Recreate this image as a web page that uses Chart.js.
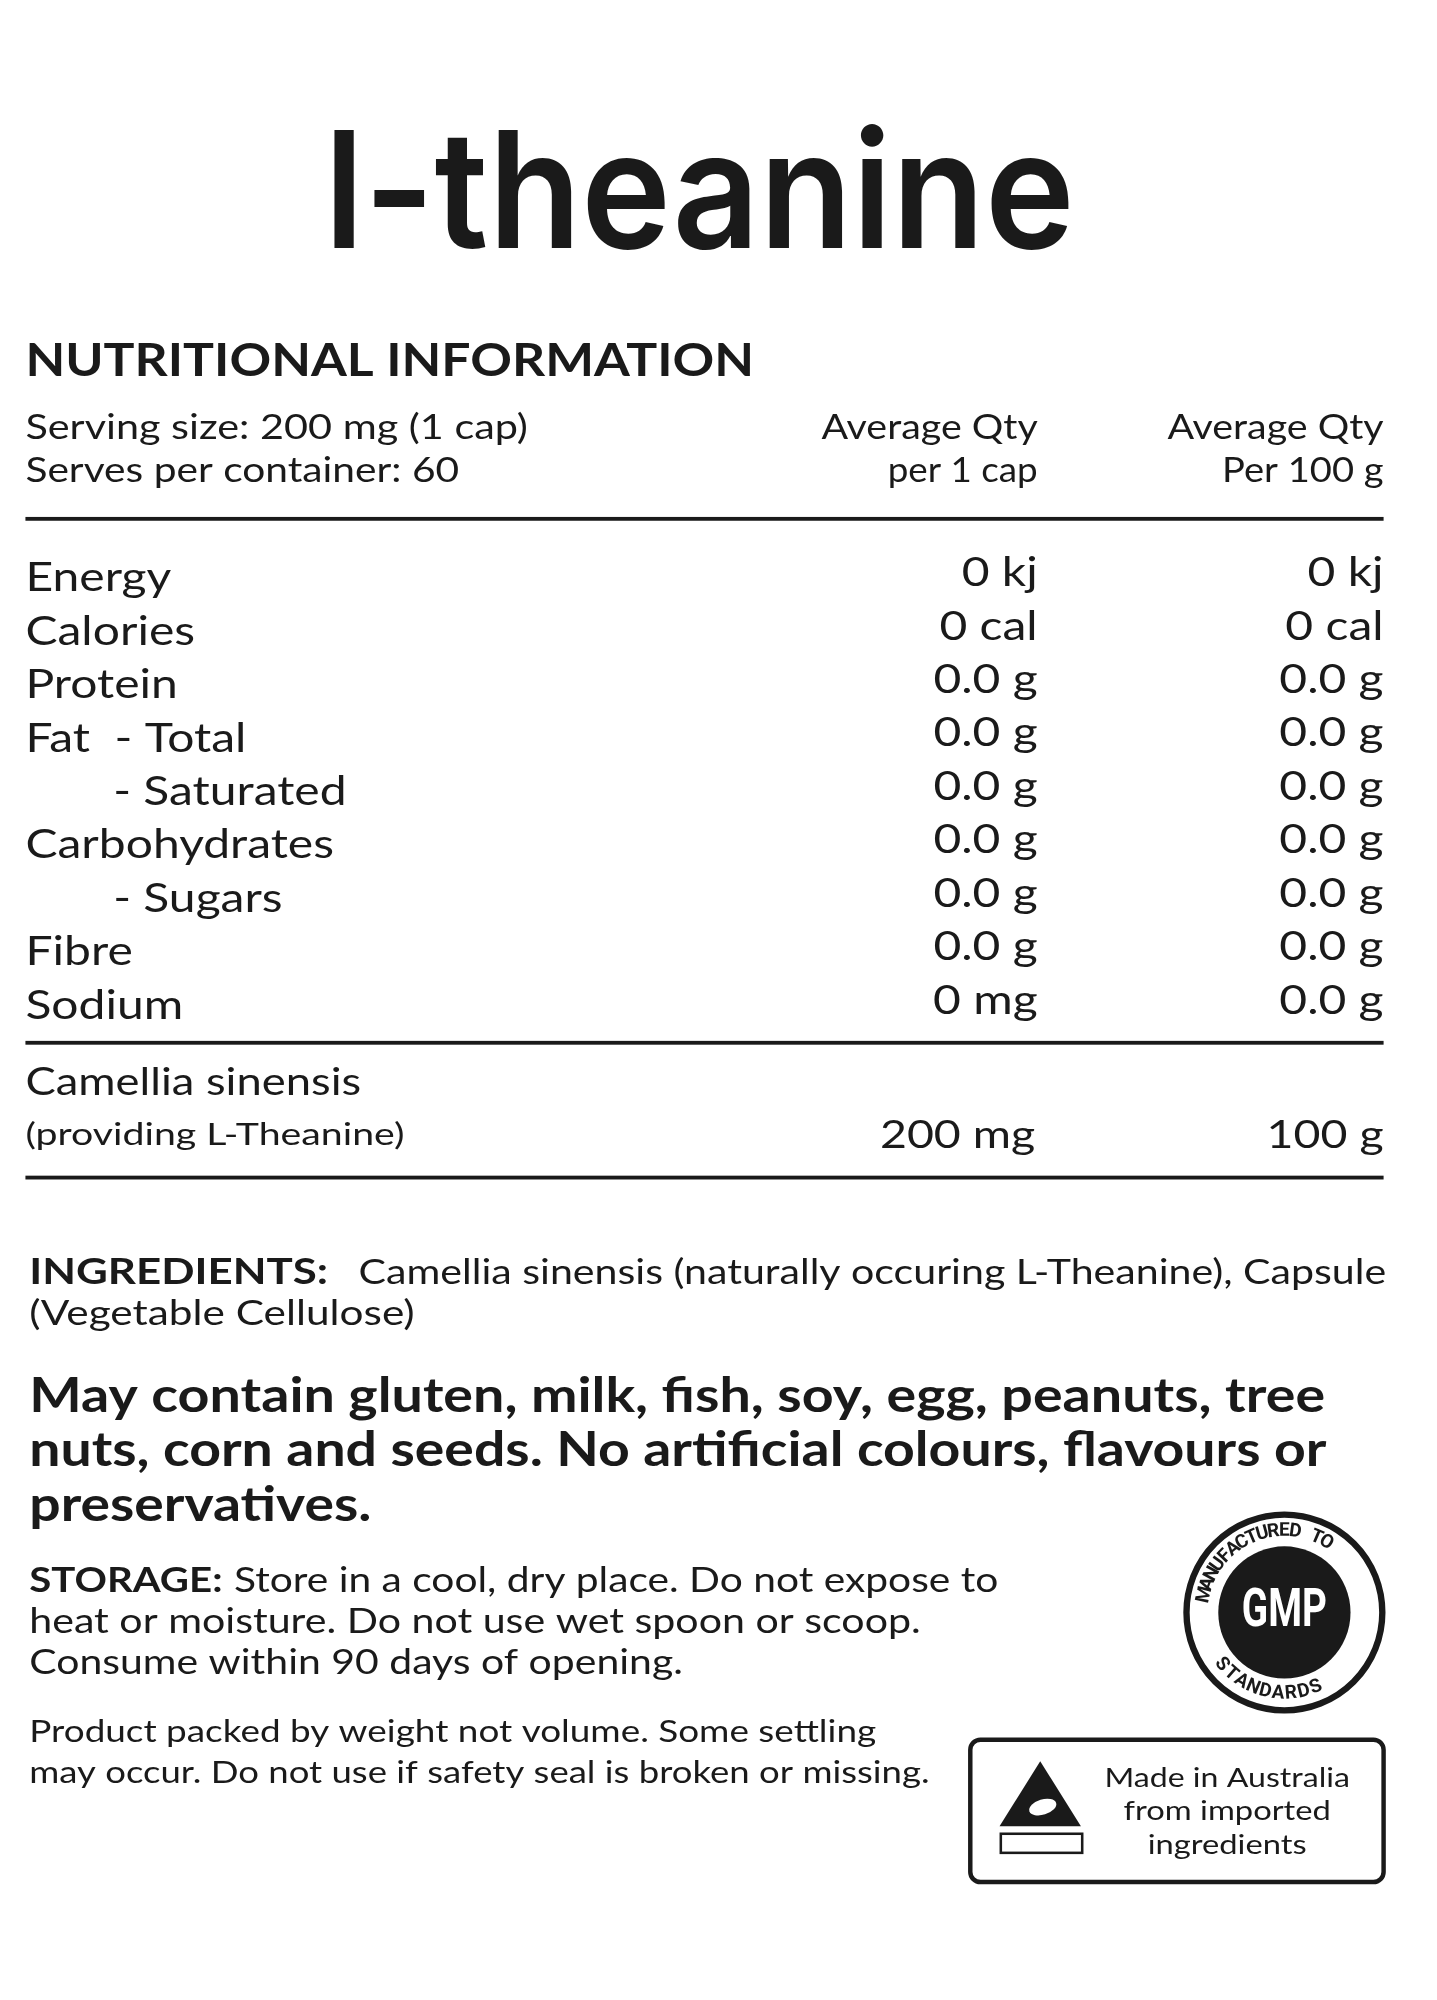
<!DOCTYPE html>
<html><head><meta charset="utf-8">
<script src="https://cdn.jsdelivr.net/npm/chart.js@4"></script>
<style>html,body{margin:0;background:#fff}canvas{display:block}</style>
</head><body>
<canvas id="label" width="1437" height="2000"></canvas>
<script>
// panel data
var nutrients = ['Energy', 'Calories', 'Protein', 'Fat  - Total', '      - Saturated', 'Carbohydrates', '      - Sugars', 'Fibre', 'Sodium'];
var perCap = ['0 kj', '0 cal', '0.0 g', '0.0 g', '0.0 g', '0.0 g', '0.0 g', '0.0 g', '0 mg'];
var per100g = ['0 kj', '0 cal', '0.0 g', '0.0 g', '0.0 g', '0.0 g', '0.0 g', '0.0 g', '0.0 g'];
var activeName = ['Camellia sinensis', '(providing L-Theanine)'];
var activeAmounts = ['200 mg', '100 g'];

var S = 1437 / 1130;
var F = '"Lato", "Open Sans", sans-serif';

// width: exact target width; otherwise stretch text horizontally by 1.18
function txt(ctx, s, x, y, size, weight, align, width) {
  ctx.font = (weight || 400) + ' ' + (size * S) + 'px ' + F;
  ctx.textAlign = 'left';
  var w = ctx.measureText(s).width;
  var k = width ? width * S / w : 1.18;
  var left = x * S;
  if (align === 'right') left -= w * k;
  if (align === 'center') left -= w * k / 2;
  ctx.save();
  ctx.translate(left, y * S);
  ctx.scale(k, 1);
  ctx.fillText(s, 0, 0);
  ctx.restore();
}
function hline(ctx, y, w) {
  ctx.fillRect(20 * S, (y - w / 2) * S, 1068 * S, w * S);
}

var panel = {
  id: 'panel',
  afterDraw: function (chart) {
    var ctx = chart.ctx;
    ctx.save();
    ctx.fillStyle = '#1a1a1a';
    ctx.strokeStyle = '#1a1a1a';
    ctx.textBaseline = 'alphabetic';

    // title
    ctx.font = '600 ' + (128 * S) + 'px "Inter", sans-serif';
    var tw = ctx.measureText('l-theanine').width;
    ctx.save();
    ctx.translate(255 * S, 195 * S);
    ctx.scale(590 * S / tw, 1);
    ctx.textAlign = 'left';
    ctx.fillText('l-theanine', 0, 0);
    ctx.restore();

    txt(ctx, 'NUTRITIONAL INFORMATION', 20, 296, 36, 700, 'left', 573);
    txt(ctx, 'Serving size: 200 mg (1 cap)', 20, 345, 27, 400, 'left', 395);
    txt(ctx, 'Serves per container: 60', 20, 379, 27, 400, 'left', 341);
    txt(ctx, 'Average Qty', 816, 345, 27, 400, 'right', 170);
    txt(ctx, 'per 1 cap', 816, 379, 27, 400, 'right', 118);
    txt(ctx, 'Average Qty', 1088, 345, 27, 400, 'right', 170);
    txt(ctx, 'Per 100 g', 1088, 379, 27, 400, 'right', 127);
    hline(ctx, 408, 3);

    for (var i = 0; i < nutrients.length; i++) {
      var y = 465 + i * 42;
      txt(ctx, nutrients[i].replace(/^ +/, ''), nutrients[i][0] === ' ' ? 89 : 20, y, 32);
      txt(ctx, perCap[i], 816, y - 4, 32, 400, 'right');
      txt(ctx, per100g[i], 1088, y - 4, 32, 400, 'right');
    }
    hline(ctx, 820, 3);
    txt(ctx, activeName[0], 20, 861, 31, 400, 'left', 264);
    txt(ctx, activeName[1], 20, 900, 25, 400, 'left', 298);
    txt(ctx, activeAmounts[0], 814, 903, 31, 400, 'right');
    txt(ctx, activeAmounts[1], 1088, 903, 31, 400, 'right');
    hline(ctx, 926, 3);

    txt(ctx, 'INGREDIENTS:', 23, 1010, 28, 700, 'left', 235);
    txt(ctx, 'Camellia sinensis (naturally occuring L-Theanine), Capsule', 282, 1010, 28, 400, 'left', 808);
    txt(ctx, '(Vegetable Cellulose)', 23, 1042, 28, 400, 'left', 303);

    txt(ctx, 'May contain gluten, milk, fish, soy, egg, peanuts, tree', 23, 1110, 37, 700, 'left', 1019);
    txt(ctx, 'nuts, corn and seeds. No artificial colours, flavours or', 23, 1153, 37, 700, 'left', 1020);
    txt(ctx, 'preservatives.', 23, 1196, 37, 700, 'left', 269);

    txt(ctx, 'STORAGE:', 23, 1252, 27, 700, 'left', 152);
    txt(ctx, 'Store in a cool, dry place. Do not expose to', 184, 1252, 27, 400, 'left', 601);
    txt(ctx, 'heat or moisture. Do not use wet spoon or scoop.', 23, 1284, 27, 400, 'left', 701);
    txt(ctx, 'Consume within 90 days of opening.', 23, 1316, 27, 400, 'left', 514);
    txt(ctx, 'Product packed by weight not volume. Some settling', 23, 1370, 24, 400, 'left', 666);
    txt(ctx, 'may occur. Do not use if safety seal is broken or missing.', 23, 1402, 24, 400, 'left', 708);

    // GMP badge
    var cx = 1010 * S, cy = 1268 * S;
    ctx.lineWidth = 5 * S;
    ctx.beginPath(); ctx.arc(cx, cy, 77 * S, 0, 2 * Math.PI); ctx.stroke();
    ctx.beginPath(); ctx.arc(cx, cy, 52 * S, 0, 2 * Math.PI); ctx.fill();
    ctx.fillStyle = '#fff';
    ctx.font = 'bold ' + (38 * S) + 'px "Roboto", sans-serif';
    ctx.textAlign = 'center'; ctx.textBaseline = 'middle';
    ctx.save(); ctx.translate(cx, cy); ctx.scale(0.8, 1.1); ctx.fillText('GMP', 0, 0); ctx.restore();
    ctx.fillStyle = '#1a1a1a';
    ctx.font = 'bold ' + (15 * S) + 'px "Roboto", sans-serif';
    function arcText(s, start, step, r, flip) {
      for (var k = 0; k < s.length; k++) {
        var a = start + k * step;
        ctx.save();
        ctx.translate(cx + r * Math.cos(a), cy + r * Math.sin(a));
        ctx.rotate(flip ? a - Math.PI / 2 : a + Math.PI / 2);
        ctx.fillText(s[k], 0, 0);
        ctx.restore();
      }
    }
    arcText('MANUFACTURED TO', -Math.PI * 0.93, 0.135, 64 * S, false);
    arcText('STANDARDS', Math.PI * 0.78, -0.16, 64 * S, true);

    // Made in Australia box
    ctx.lineWidth = 3.5 * S;
    ctx.beginPath();
    ctx.roundRect(763 * S, 1368 * S, 325 * S, 112 * S, 8 * S);
    ctx.stroke();
    ctx.beginPath();
    ctx.moveTo(818 * S, 1385 * S); ctx.lineTo(850 * S, 1436 * S); ctx.lineTo(786 * S, 1436 * S); ctx.closePath();
    ctx.fill();
    ctx.lineWidth = 2 * S;
    ctx.strokeRect(787 * S, 1442 * S, 64 * S, 15 * S);
    ctx.fillStyle = '#fff';
    ctx.beginPath(); ctx.ellipse(820 * S, 1421 * S, 11 * S, 6 * S, -0.3, 0, 2 * Math.PI); ctx.fill();
    ctx.fillStyle = '#1a1a1a';
    ctx.textBaseline = 'alphabetic';
    txt(ctx, 'Made in Australia', 965, 1405, 21, 400, 'center', 193);
    txt(ctx, 'from imported', 965, 1431, 21, 400, 'center', 163);
    txt(ctx, 'ingredients', 965, 1458, 21, 400, 'center', 125);
    ctx.restore();
  }
};

new Chart(document.getElementById('label'), {
  type: 'bar',
  data: { labels: [], datasets: [] },
  options: {
    responsive: false,
    devicePixelRatio: 1,
    animation: false,
    plugins: { legend: { display: false }, tooltip: { enabled: false } },
    scales: { x: { display: false }, y: { display: false } }
  },
  plugins: [panel]
});
</script>
</body></html>
